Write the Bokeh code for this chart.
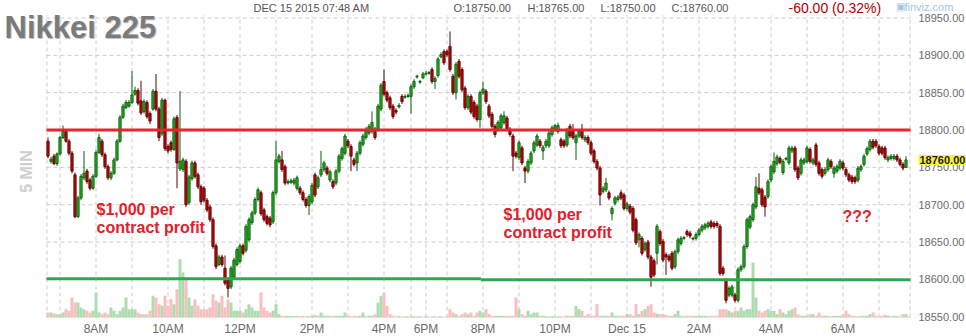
from bokeh.plotting import figure
from bokeh.models import ColumnDataSource, FixedTicker, Range1d, Label, LinearAxis
from bokeh.embed import file_html
from bokeh.resources import INLINE
import math

# Nikkei 225 futures, 5-minute bars, Dec 14 06:40 -> Dec 15 07:45 (bar index on x)
opens = [
    18785, 18758, 18765, 18755, 18768, 18790, 18798, 18785, 18769, 18740, 18684, 18709,
    18736, 18745, 18733, 18722, 18738, 18770, 18785, 18767, 18751, 18736, 18742, 18760,
    18785, 18817, 18830, 18832, 18837, 18848, 18853, 18839, 18825, 18837, 18822, 18828,
    18852, 18828, 18795, 18840, 18778, 18783, 18774, 18817, 18748, 18747, 18758, 18703,
    18735, 18756, 18740, 18724, 18722, 18706, 18697, 18680, 18645, 18620, 18630, 18615,
    18600, 18590, 18603, 18620, 18624, 18645, 18639, 18653, 18676, 18689, 18707, 18716,
    18693, 18684, 18682, 18677, 18716, 18758, 18760, 18751, 18729, 18730, 18729, 18722,
    18722, 18716, 18707, 18699, 18704, 18740, 18724, 18740, 18747, 18749, 18733, 18731,
    18729, 18745, 18762, 18769, 18785, 18778, 18760, 18756, 18769, 18781, 18790, 18796,
    18798, 18801, 18801, 18828, 18865, 18850, 18843, 18832, 18826, 18831, 18845, 18844,
    18845, 18845, 18858, 18871, 18864, 18870, 18875, 18876, 18881, 18865, 18873, 18898,
    18905, 18905, 18912, 18872, 18850, 18892, 18881, 18856, 18830, 18845, 18837, 18832,
    18814, 18850, 18852, 18832, 18821, 18805, 18801, 18803, 18810, 18816, 18801, 18792,
    18769, 18763, 18776, 18749, 18745, 18756, 18772, 18780, 18785, 18772, 18779, 18779,
    18794, 18801, 18798, 18787, 18785, 18780, 18805, 18798, 18783, 18792, 18801, 18787,
    18790, 18783, 18772, 18758, 18749, 18718, 18720, 18716, 18688, 18702, 18707, 18716,
    18713, 18695, 18698, 18695, 18680, 18653, 18655, 18640, 18650, 18630, 18625, 18635,
    18664, 18651, 18633, 18631, 18635, 18617, 18637, 18648, 18655, 18664, 18662, 18654,
    18655, 18660, 18666, 18669, 18671, 18677, 18675, 18675, 18671, 18615, 18599, 18579,
    18579, 18579, 18572, 18613, 18617, 18644, 18670, 18680, 18697, 18722, 18720, 18710,
    18711, 18733, 18744, 18755, 18762, 18743, 18761, 18756, 18772, 18776, 18749, 18742,
    18756, 18758, 18774, 18756, 18780, 18756, 18747, 18742, 18747, 18758, 18742, 18745,
    18749, 18756, 18747, 18740, 18737, 18736, 18733, 18747, 18754, 18768, 18774, 18785,
    18785, 18778, 18776, 18776, 18760, 18762, 18762, 18765, 18760, 18754, 18750,
]
highs = [
    18790, 18764, 18768, 18770, 18792, 18806, 18801, 18788, 18772, 18743, 18712, 18741,
    18772, 18748, 18736, 18741, 18773, 18795, 18788, 18770, 18754, 18745, 18763, 18788,
    18820, 18835, 18840, 18840, 18879, 18858, 18856, 18866, 18841, 18840, 18825, 18855,
    18875, 18831, 18843, 18842, 18781, 18786, 18818, 18820, 18852, 18763, 18761, 18740,
    18759, 18759, 18743, 18727, 18725, 18709, 18700, 18683, 18648, 18633, 18633, 18632,
    18603, 18618, 18629, 18643, 18648, 18648, 18674, 18683, 18692, 18710, 18723, 18719,
    18696, 18687, 18685, 18719, 18785, 18768, 18772, 18754, 18734, 18735, 18736, 18739,
    18725, 18719, 18710, 18714, 18729, 18743, 18739, 18772, 18759, 18752, 18747, 18734,
    18748, 18768, 18778, 18795, 18788, 18781, 18763, 18772, 18786, 18795, 18804, 18808,
    18825, 18804, 18835, 18863, 18881, 18853, 18846, 18835, 18829, 18836, 18848, 18848,
    18849, 18861, 18868, 18874, 18867, 18878, 18879, 18879, 18884, 18872, 18898, 18904,
    18908, 18908, 18932, 18875, 18891, 18895, 18884, 18859, 18848, 18848, 18840, 18835,
    18853, 18865, 18855, 18835, 18824, 18808, 18813, 18822, 18825, 18819, 18804, 18795,
    18772, 18786, 18779, 18752, 18761, 18772, 18786, 18795, 18788, 18780, 18788, 18799,
    18806, 18808, 18810, 18790, 18788, 18803, 18808, 18808, 18795, 18801, 18808, 18793,
    18793, 18786, 18775, 18761, 18752, 18725, 18736, 18719, 18698, 18712, 18713, 18720,
    18716, 18704, 18701, 18698, 18683, 18663, 18658, 18651, 18653, 18633, 18628, 18674,
    18667, 18654, 18636, 18634, 18638, 18640, 18656, 18658, 18658, 18667, 18665, 18657,
    18663, 18669, 18674, 18676, 18678, 18680, 18678, 18678, 18674, 18618, 18602, 18591,
    18593, 18582, 18616, 18620, 18647, 18683, 18687, 18703, 18737, 18742, 18723, 18713,
    18734, 18754, 18770, 18767, 18765, 18761, 18764, 18779, 18779, 18779, 18752, 18763,
    18763, 18779, 18777, 18763, 18783, 18759, 18750, 18750, 18763, 18761, 18752, 18754,
    18761, 18759, 18750, 18743, 18740, 18739, 18752, 18754, 18768, 18778, 18788, 18788,
    18788, 18781, 18779, 18779, 18766, 18768, 18768, 18768, 18763, 18757, 18765,
]
lows = [
    18762, 18755, 18753, 18752, 18766, 18788, 18783, 18766, 18742, 18682, 18682, 18706,
    18733, 18728, 18719, 18720, 18736, 18768, 18764, 18748, 18733, 18733, 18740, 18758,
    18783, 18815, 18828, 18830, 18835, 18846, 18833, 18820, 18822, 18815, 18808, 18826,
    18825, 18785, 18792, 18772, 18769, 18771, 18772, 18722, 18745, 18744, 18697, 18700,
    18732, 18735, 18721, 18700, 18703, 18690, 18677, 18641, 18614, 18618, 18617, 18592,
    18576, 18587, 18600, 18617, 18621, 18632, 18636, 18650, 18673, 18686, 18704, 18685,
    18677, 18672, 18670, 18674, 18713, 18755, 18744, 18726, 18727, 18728, 18726, 18719,
    18713, 18704, 18696, 18686, 18701, 18710, 18721, 18737, 18744, 18739, 18730, 18721,
    18726, 18742, 18759, 18766, 18776, 18745, 18751, 18745, 18766, 18778, 18787, 18793,
    18795, 18787, 18798, 18825, 18845, 18837, 18827, 18815, 18821, 18829, 18835, 18842,
    18843, 18822, 18855, 18869, 18862, 18868, 18873, 18874, 18862, 18855, 18870, 18896,
    18887, 18898, 18878, 18847, 18841, 18869, 18851, 18827, 18827, 18821, 18815, 18811,
    18803, 18847, 18835, 18816, 18802, 18790, 18798, 18800, 18807, 18798, 18791, 18745,
    18762, 18760, 18753, 18729, 18742, 18753, 18769, 18777, 18776, 18760, 18776, 18776,
    18791, 18798, 18795, 18776, 18776, 18777, 18789, 18787, 18760, 18789, 18787, 18784,
    18780, 18766, 18755, 18746, 18699, 18715, 18717, 18706, 18679, 18699, 18704, 18706,
    18692, 18692, 18687, 18663, 18646, 18643, 18632, 18637, 18627, 18590, 18603, 18620,
    18645, 18623, 18606, 18623, 18612, 18614, 18634, 18645, 18653, 18657, 18655, 18652,
    18652, 18657, 18663, 18666, 18668, 18668, 18668, 18669, 18605, 18605, 18568, 18576,
    18576, 18569, 18569, 18610, 18614, 18641, 18667, 18677, 18694, 18713, 18697, 18684,
    18708, 18730, 18741, 18752, 18754, 18740, 18759, 18753, 18769, 18744, 18733, 18739,
    18753, 18755, 18755, 18753, 18751, 18739, 18735, 18739, 18744, 18748, 18736, 18742,
    18746, 18746, 18737, 18730, 18728, 18728, 18730, 18744, 18751, 18765, 18771, 18774,
    18776, 18766, 18766, 18760, 18757, 18759, 18759, 18757, 18751, 18746, 18750,
]
closes = [
    18765, 18761, 18755, 18768, 18790, 18798, 18785, 18769, 18745, 18684, 18709, 18738,
    18742, 18731, 18722, 18738, 18770, 18790, 18767, 18751, 18736, 18742, 18760, 18785,
    18817, 18832, 18837, 18837, 18847, 18853, 18836, 18823, 18838, 18818, 18812, 18852,
    18828, 18790, 18840, 18775, 18772, 18774, 18815, 18756, 18758, 18760, 18700, 18737,
    18756, 18738, 18724, 18704, 18706, 18693, 18680, 18644, 18617, 18630, 18620, 18595,
    18588, 18615, 18626, 18640, 18645, 18635, 18671, 18680, 18689, 18707, 18720, 18688,
    18680, 18675, 18673, 18716, 18760, 18765, 18747, 18729, 18731, 18732, 18733, 18736,
    18716, 18707, 18699, 18711, 18726, 18713, 18736, 18747, 18756, 18742, 18744, 18724,
    18745, 18765, 18775, 18792, 18779, 18765, 18754, 18769, 18783, 18792, 18801, 18805,
    18810, 18790, 18832, 18860, 18848, 18840, 18830, 18818, 18824, 18833, 18838, 18845,
    18846, 18858, 18865, 18872, 18865, 18875, 18876, 18877, 18865, 18869, 18895, 18901,
    18890, 18901, 18881, 18850, 18888, 18872, 18854, 18830, 18845, 18824, 18818, 18814,
    18850, 18855, 18838, 18819, 18805, 18794, 18810, 18819, 18819, 18801, 18794, 18765,
    18765, 18783, 18756, 18745, 18758, 18769, 18783, 18792, 18779, 18777, 18785, 18796,
    18803, 18806, 18806, 18779, 18779, 18800, 18792, 18790, 18792, 18798, 18790, 18790,
    18783, 18769, 18758, 18749, 18713, 18722, 18729, 18709, 18695, 18709, 18710, 18709,
    18695, 18701, 18690, 18666, 18649, 18660, 18635, 18648, 18630, 18603, 18606, 18671,
    18648, 18626, 18630, 18626, 18615, 18637, 18653, 18655, 18656, 18660, 18658, 18655,
    18660, 18666, 18671, 18673, 18675, 18671, 18671, 18672, 18608, 18608, 18572, 18588,
    18590, 18572, 18613, 18617, 18644, 18680, 18684, 18700, 18724, 18716, 18700, 18697,
    18731, 18751, 18758, 18764, 18757, 18758, 18762, 18776, 18776, 18747, 18736, 18760,
    18760, 18776, 18758, 18760, 18754, 18742, 18738, 18747, 18760, 18751, 18749, 18751,
    18758, 18749, 18740, 18733, 18731, 18731, 18749, 18751, 18765, 18775, 18785, 18777,
    18779, 18769, 18769, 18763, 18763, 18765, 18765, 18760, 18754, 18749, 18760,
]
volumes = [
    105, 105, 84, 70, 70, 105, 175, 140, 420, 315, 315, 210,
    175, 140, 105, 140, 525, 105, 70, 105, 70, 210, 140, 70,
    140, 210, 420, 175, 175, 175, 105, 70, 70, 70, 140, 455,
    420, 280, 245, 455, 245, 385, 280, 595, 1225, 945, 840, 420,
    245, 385, 245, 175, 175, 175, 210, 490, 350, 315, 455, 210,
    385, 315, 140, 140, 140, 105, 175, 280, 210, 140, 140, 525,
    210, 140, 105, 140, 280, 70, 35, 35, 35, 35, 21, 35,
    21, 35, 21, 21, 35, 56, 35, 105, 35, 35, 35, 35,
    35, 35, 35, 105, 35, 21, 35, 21, 35, 105, 21, 35,
    35, 70, 315, 455, 525, 245, 70, 35, 21, 21, 21, 21,
    21, 21, 21, 21, 14, 14, 14, 14, 14, 14, 14, 14,
    14, 14, 175, 105, 70, 35, 70, 105, 70, 105, 35, 105,
    140, 105, 175, 70, 35, 35, 35, 35, 35, 35, 35, 35,
    420, 175, 70, 35, 140, 70, 105, 105, 35, 35, 21, 21,
    21, 21, 21, 21, 21, 35, 35, 35, 245, 175, 140, 35,
    70, 35, 35, 280, 35, 35, 35, 35, 105, 35, 35, 35,
    35, 70, 70, 35, 280, 70, 140, 175, 245, 280, 105, 84,
    70, 70, 56, 35, 35, 70, 140, 35, 21, 35, 35, 21,
    35, 21, 35, 35, 21, 35, 21, 35, 175, 175, 175, 140,
    105, 140, 140, 210, 140, 175, 175, 1155, 420, 140, 105, 140,
    175, 140, 140, 70, 175, 105, 70, 140, 175, 210, 70, 35,
    35, 35, 70, 70, 35, 105, 35, 35, 35, 21, 35, 35,
    35, 70, 140, 70, 35, 35, 21, 21, 35, 35, 70, 105,
    35, 21, 35, 56, 35, 21, 35, 35, 21, 70, 70,
]

# hour gridlines (bar index of each hour's first bar) and the labelled ones
hour_bars = [4, 16, 28, 40, 52, 64, 76, 88, 100, 112, 121, 126, 133, 145, 157,
             169, 181, 193, 205, 217, 229, 241, 253, 265, 277]
label_bars = [16, 40, 64, 88, 112, 126, 145, 169, 193, 217, 241, 265]
label_text = ["8AM", "10AM", "12PM", "2PM", "4PM", "6PM", "8PM", "10PM",
              "Dec 15", "2AM", "4AM", "6AM"]
price_ticks = [18550, 18600, 18650, 18700, 18750, 18800, 18850, 18900, 18950]

# hand-drawn levels: (from bar, to bar, price)
resistance = [(-0.5, 287.5, 18800)]
support = [(-0.5, 144.3, 18600.8), (144.3, 287.5, 18599.5)]

# plot area inside the 966x336 canvas
W, H = 966, 336
LEFT, TOP, FW, FH = 46, 16, 864, 301
X0, X1 = -0.5, 287.5
Y0, Y1 = 18549, 18952
VOL_PER_PX = 21


def px_x(cx):
    return X0 + (cx - LEFT) * (X1 - X0) / FW


def px_y(cy):
    return Y1 - (cy - TOP) * (Y1 - Y0) / FH


up = [c >= o for o, c in zip(opens, closes)]
src = ColumnDataSource(dict(
    i=list(range(len(closes))),
    h=highs, l=lows,
    top=[max(o, c) for o, c in zip(opens, closes)],
    bot=[min(o, c) for o, c in zip(opens, closes)],
    fill=["#27bb27" if u else "#cc0a0a" for u in up],
    edge=["#0b5e0b" if u else "#5e0000" for u in up],
    vol=volumes,
    vcol=["#aedcae" if u else "#f8bfbf" for u in up],
))

FONT = "Liberation Sans"

p = figure(width=W, height=H,
           x_range=Range1d(px_x(0), px_x(W)), y_range=Range1d(px_y(H), px_y(0)),
           output_backend="svg", toolbar_location=None,
           x_axis_location=None, y_axis_location=None,
           min_border=0, outline_line_color=None,
           background_fill_color="white", border_fill_color="white")
p.xgrid.visible = False
p.ygrid.visible = False

base_px = TOP + FH
p.extra_y_ranges = {"vol": Range1d(-(H - base_px) * VOL_PER_PX, base_px * VOL_PER_PX)}

# dashed grid over the plot area
GRID = dict(line_color="#cdcdcd", line_dash="4 3", line_width=1)
vx = [X0 + 0.15] + hour_bars + [X1 - 0.15]
p.segment(x0=vx, y0=[Y0] * len(vx), x1=vx, y1=[Y1 + 1.5] * len(vx), **GRID)
p.segment(x0=[X0] * len(price_ticks), y0=price_ticks,
          x1=[X1] * len(price_ticks), y1=price_ticks, **GRID)

# axes pinned to the plot-area edges
xaxis = LinearAxis(fixed_location=Y0, ticker=FixedTicker(ticks=label_bars),
                   major_label_overrides={b: t for b, t in zip(label_bars, label_text)},
                   major_label_standoff=4)
yaxis = LinearAxis(fixed_location=X1, ticker=FixedTicker(ticks=price_ticks),
                   major_label_overrides={v: f"{v:.2f}" for v in price_ticks},
                   major_label_standoff=8)
for ax in (xaxis, yaxis):
    ax.axis_line_color = None
    ax.major_tick_line_color = None
    ax.minor_tick_line_color = None
    ax.major_tick_out = 0
    ax.major_tick_in = 0
    ax.minor_tick_out = 0
    ax.major_label_text_font = FONT
    ax.major_label_text_color = "#6a6a6a"
xaxis.major_label_text_font_size = "12px"
yaxis.major_label_text_font_size = "11px"
p.add_layout(xaxis, "below")
p.add_layout(yaxis, "right")

# volume
p.vbar(x="i", top="vol", bottom=0, width=1.0, source=src, y_range_name="vol",
       fill_color="vcol", line_color=None)

# candles
p.segment(x0="i", y0="h", x1="i", y1="l", source=src, line_color="edge", line_width=1)
p.vbar(x="i", top="top", bottom="bot", width=0.72, source=src,
       fill_color="fill", line_color="edge", line_width=1)

# levels
for x_a, x_b, lvl in resistance:
    p.segment(x0=[x_a], y0=[lvl], x1=[x_b], y1=[lvl], line_color="#e3262f", line_width=3)
for x_a, x_b, lvl in support:
    p.segment(x0=[x_a], y0=[lvl], x1=[x_b], y1=[lvl], line_color="#2ea84c", line_width=3)


def note(text, cx, cy, size, color, bold=False, align="left",
         baseline="middle", angle=0.0, **extra):
    p.add_layout(Label(x=px_x(cx), y=px_y(cy), text=text,
                       text_font=FONT, text_font_size=f"{size}px",
                       text_font_style="bold" if bold else "normal",
                       text_color=color, text_align=align,
                       text_baseline=baseline, angle=angle, **extra))


note("Nikkei 225", 5, 28, 31, "#c4c4c4", bold=True, baseline="alphabetic")
note("Nikkei 225", 4, 27, 31, "#7b7b7b", bold=True, baseline="alphabetic")
note("DEC 15 2015 07:48 AM", 253, 7.5, 11, "#555555")
note("O:18750.00", 453, 7.5, 11, "#555555")
note("H:18765.00", 527, 7.5, 11, "#555555")
note("L:18750.00", 600, 7.5, 11, "#555555")
note("C:18760.00", 671, 7.5, 11, "#555555")
note("-60.00 (0.32%)", 788, 7.5, 14, "#b00000")
note("\u25a3", 895, 6, 10, "#9fc6da")
note("finviz.com", 904, 6, 11, "#9fc6da")
note("5 MIN", 26, 171, 16, "#cfcfcf", bold=True, align="center", angle=math.pi / 2)

# last-price marker on the price scale
last = closes[-1]
p.add_layout(Label(x=px_x(918), y=last, text=f"{last:.2f}",
                   text_font=FONT, text_font_size="11px", text_font_style="bold",
                   text_color="#1e1e1e", text_align="left", text_baseline="middle",
                   background_fill_color="#f6f43c", padding=1))

RED = "#e0202b"
note("$1,000 per", 96, 208.5, 16, RED, bold=True)
note("contract profit", 96, 226.5, 16, RED, bold=True)
note("$1,000 per", 503, 213.5, 16, RED, bold=True)
note("contract profit", 503, 232, 16, RED, bold=True)
note("???", 842, 216, 16, RED, bold=True)

open("out.html", "w").write(file_html(p, INLINE))
